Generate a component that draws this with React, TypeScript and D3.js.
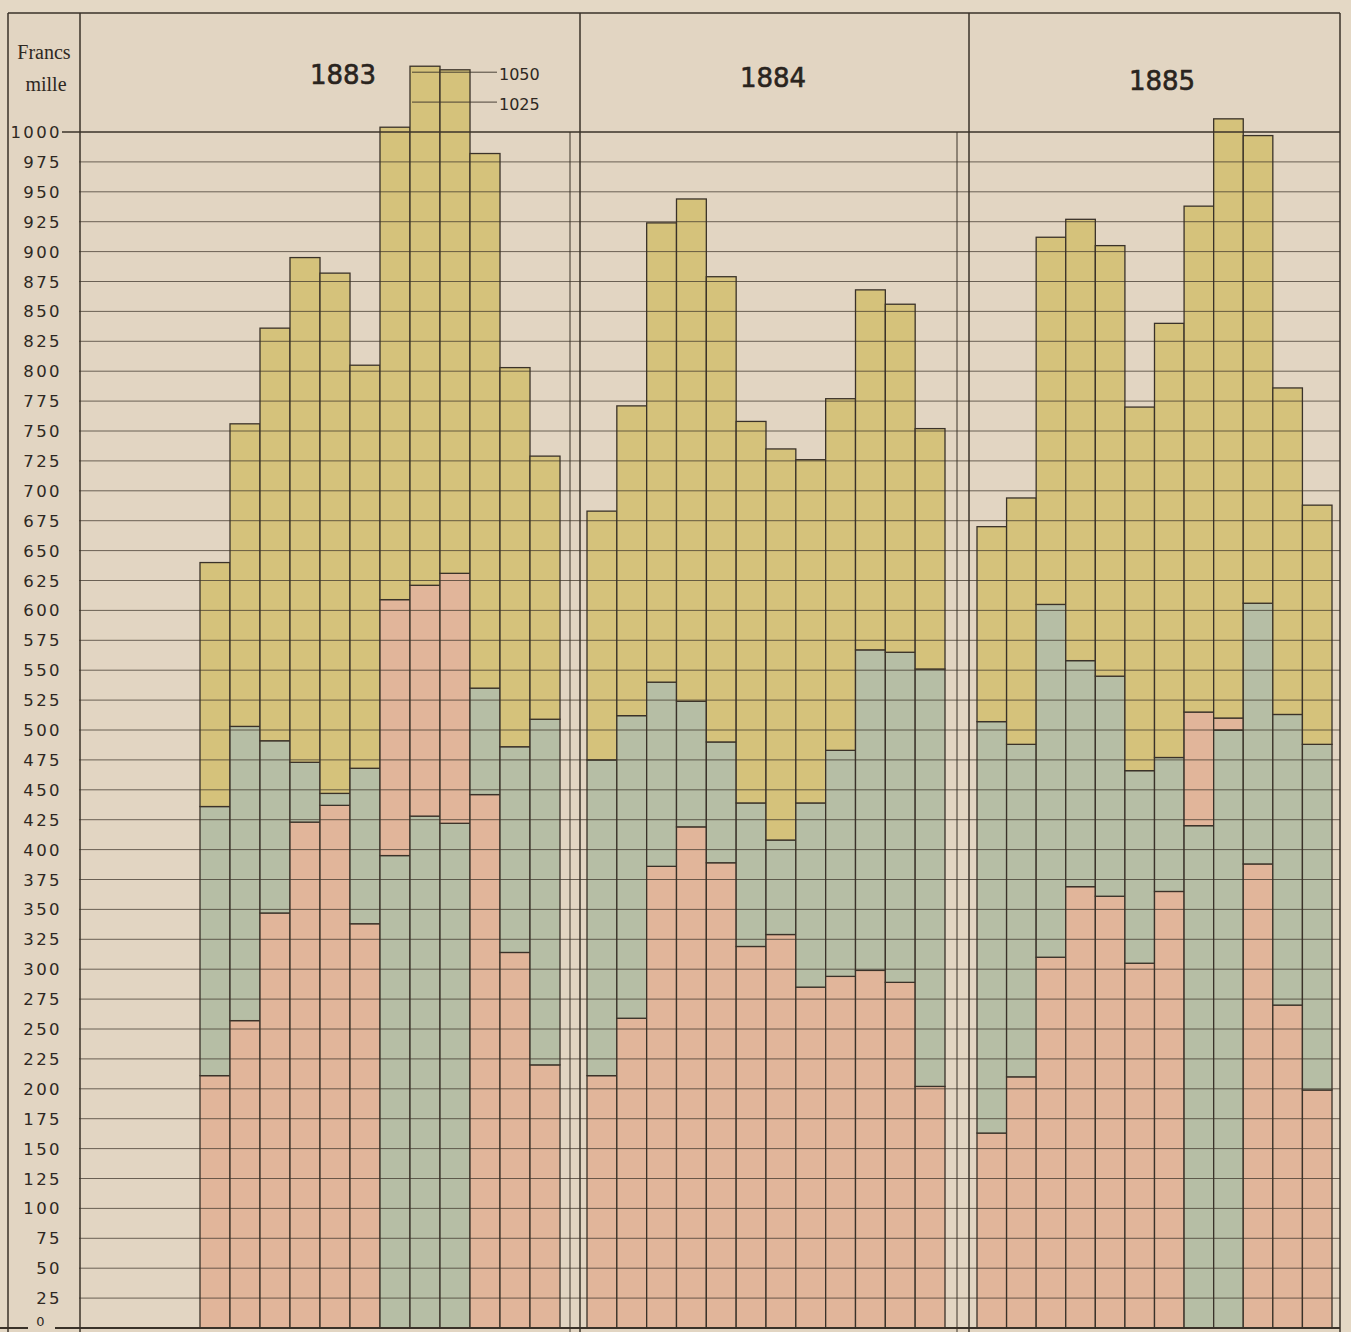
import React, { useEffect, useRef } from "react";
import * as d3 from "d3";

// milliers de francs, one bar per month
const months = ["Janv.", "Févr.", "Mars", "Avril", "Mai", "Juin", "Juil.", "Août", "Sept.", "Oct.", "Nov.", "Déc."];
const years = ["1883", "1884", "1885"];

const pink1883 = [211, 257, 347, 423, 437, 338, 214, 193, 209, 446, 314, 220];
const green1883 = [225, 246, 144, 50, 10, 130, 395, 428, 422, 89, 172, 289];
const yellow1883 = [204, 253, 345, 422, 435, 337, 395, 434, 421, 447, 317, 220];
const greenBelow1883 = [0, 0, 0, 0, 0, 0, 1, 1, 1, 0, 0, 0];

const pink1884 = [211, 259, 386, 419, 389, 319, 329, 285, 294, 299, 289, 202];
const green1884 = [264, 253, 154, 105, 101, 120, 79, 154, 189, 268, 276, 349];
const yellow1884 = [208, 259, 384, 420, 389, 319, 327, 287, 294, 301, 291, 201];
const greenBelow1884 = [0, 0, 0, 0, 0, 0, 0, 0, 0, 0, 0, 0];

const pink1885 = [163, 210, 310, 369, 361, 305, 365, 95, 10, 388, 270, 199];
const green1885 = [344, 278, 295, 189, 184, 161, 112, 420, 500, 218, 243, 289];
const yellow1885 = [163, 206, 307, 369, 360, 304, 363, 423, 501, 391, 273, 200];
const greenBelow1885 = [0, 0, 0, 0, 0, 0, 0, 1, 1, 0, 0, 0];

const extraTicks = [1050, 1025];

const W = 1351;
const H = 1332;
const COLORS = { pink: "#e1b59a", green: "#b6bea5", yellow: "#d5c27b" };
const INK = "#3a3229";

const App = () => {
  const ref = useRef<SVGSVGElement | null>(null);

  useEffect(() => {
    const svg = d3.select(ref.current);
    svg.selectAll("*").remove();

    const y = d3.scaleLinear().domain([0, 1000]).range([1328, 132]);
    const panels = [
      { year: years[0], range: [200, 560], pink: pink1883, green: green1883, yellow: yellow1883, gb: greenBelow1883, cx: 343, ty: 84 },
      { year: years[1], range: [587, 945], pink: pink1884, green: green1884, yellow: yellow1884, gb: greenBelow1884, cx: 773, ty: 87 },
      { year: years[2], range: [977, 1332], pink: pink1885, green: green1885, yellow: yellow1885, gb: greenBelow1885, cx: 1162, ty: 90 },
    ];

    svg.append("rect").attr("width", W).attr("height", H).attr("fill", "#e4d8c5");
    svg.append("rect").attr("x", 8).attr("y", 13).attr("width", 1332).attr("height", H).attr("fill", "#e2d5c2");

    // bars
    panels.forEach((p) => {
      const x = d3.scaleBand().domain(months).range(p.range as [number, number]).padding(0);
      const g = svg.append("g");
      months.forEach((m, i) => {
        const segs = p.gb[i]
          ? [["green", p.green[i]], ["pink", p.pink[i]], ["yellow", p.yellow[i]]]
          : [["pink", p.pink[i]], ["green", p.green[i]], ["yellow", p.yellow[i]]];
        let acc = 0;
        segs.forEach(([key, v]) => {
          const val = v as number;
          g.append("rect")
            .attr("x", x(m)!)
            .attr("width", x.bandwidth())
            .attr("y", y(acc + val))
            .attr("height", y(acc) - y(acc + val))
            .attr("fill", COLORS[key as keyof typeof COLORS])
            .attr("stroke", INK)
            .attr("stroke-width", 1.3);
          acc += val;
        });
      });
    });

    // horizontal rules
    const ticks = d3.range(25, 1000, 25);
    svg.append("g")
      .selectAll("line")
      .data(ticks)
      .join("line")
      .attr("x1", 79)
      .attr("x2", 1340)
      .attr("y1", (d) => y(d))
      .attr("y2", (d) => y(d))
      .attr("stroke", INK)
      .attr("stroke-width", 0.9)
      .attr("stroke-opacity", 0.8);

    svg.append("line").attr("x1", 62).attr("x2", 1340).attr("y1", y(1000)).attr("y2", y(1000))
      .attr("stroke", INK).attr("stroke-width", 1.6);
    svg.append("line").attr("x1", 0).attr("x2", 28).attr("y1", y(0)).attr("y2", y(0))
      .attr("stroke", INK).attr("stroke-width", 2);
    svg.append("line").attr("x1", 55).attr("x2", 1340).attr("y1", y(0)).attr("y2", y(0))
      .attr("stroke", INK).attr("stroke-width", 2);

    // 1050 / 1025 marks above the 1883 peak
    svg.append("g")
      .selectAll("line")
      .data(extraTicks)
      .join("line")
      .attr("x1", 412)
      .attr("x2", 497)
      .attr("y1", (d) => y(d))
      .attr("y2", (d) => y(d))
      .attr("stroke", INK)
      .attr("stroke-width", 0.9);
    svg.append("g")
      .selectAll("text")
      .data(extraTicks)
      .join("text")
      .attr("x", 499)
      .attr("y", (d) => y(d) + 8)
      .attr("font-family", "DejaVu Sans, sans-serif")
      .attr("font-size", 16)
      .attr("fill", "#2e2822")
      .text((d) => d);

    // frame and panel separators
    const frame = svg.append("g").attr("stroke", INK).attr("fill", "none");
    frame.append("line").attr("x1", 8).attr("x2", 1340).attr("y1", 13).attr("y2", 13).attr("stroke-width", 1.6);
    [8, 80, 580, 969, 1340].forEach((xv) => {
      frame.append("line").attr("x1", xv).attr("x2", xv).attr("y1", 13).attr("y2", H).attr("stroke-width", 1.5);
    });
    [570, 957].forEach((xv) => {
      frame.append("line").attr("x1", xv).attr("x2", xv).attr("y1", y(1000)).attr("y2", H).attr("stroke-width", 1);
    });

    // y axis labels
    svg.append("g")
      .selectAll("text")
      .data(d3.range(0, 1001, 25))
      .join("text")
      .attr("x", (d) => (d === 0 ? 47 : 62))
      .attr("y", (d) => (d === 0 ? y(d) - 2 : y(d) + 6))
      .attr("text-anchor", "end")
      .attr("font-family", "DejaVu Sans, sans-serif")
      .attr("font-size", (d) => (d === 0 ? 13 : 16.5))
      .attr("letter-spacing", 2.4)
      .attr("fill", "#2e2822")
      .text((d) => d);

    svg.append("text").attr("x", 44).attr("y", 59).attr("text-anchor", "middle")
      .attr("font-family", "Liberation Serif, serif").attr("font-size", 20).attr("fill", "#2e2822").text("Francs");
    svg.append("text").attr("x", 46).attr("y", 91).attr("text-anchor", "middle")
      .attr("font-family", "Liberation Serif, serif").attr("font-size", 20).attr("fill", "#2e2822").text("mille");

    // year headings
    panels.forEach((p) => {
      svg.append("text")
        .attr("x", p.cx)
        .attr("y", p.ty)
        .attr("text-anchor", "middle")
        .attr("font-family", "DejaVu Sans, sans-serif")
        .attr("font-size", 26)
        .attr("fill", "#2a241e")
        .attr("stroke", "#2a241e")
        .attr("stroke-width", 0.6)
        .text(p.year);
    });
  }, []);

  return (
    <svg
      ref={ref}
      width={W}
      height={H}
      style={{ position: "absolute", left: 0, top: 0, display: "block" }}
    />
  );
};

export default App;
